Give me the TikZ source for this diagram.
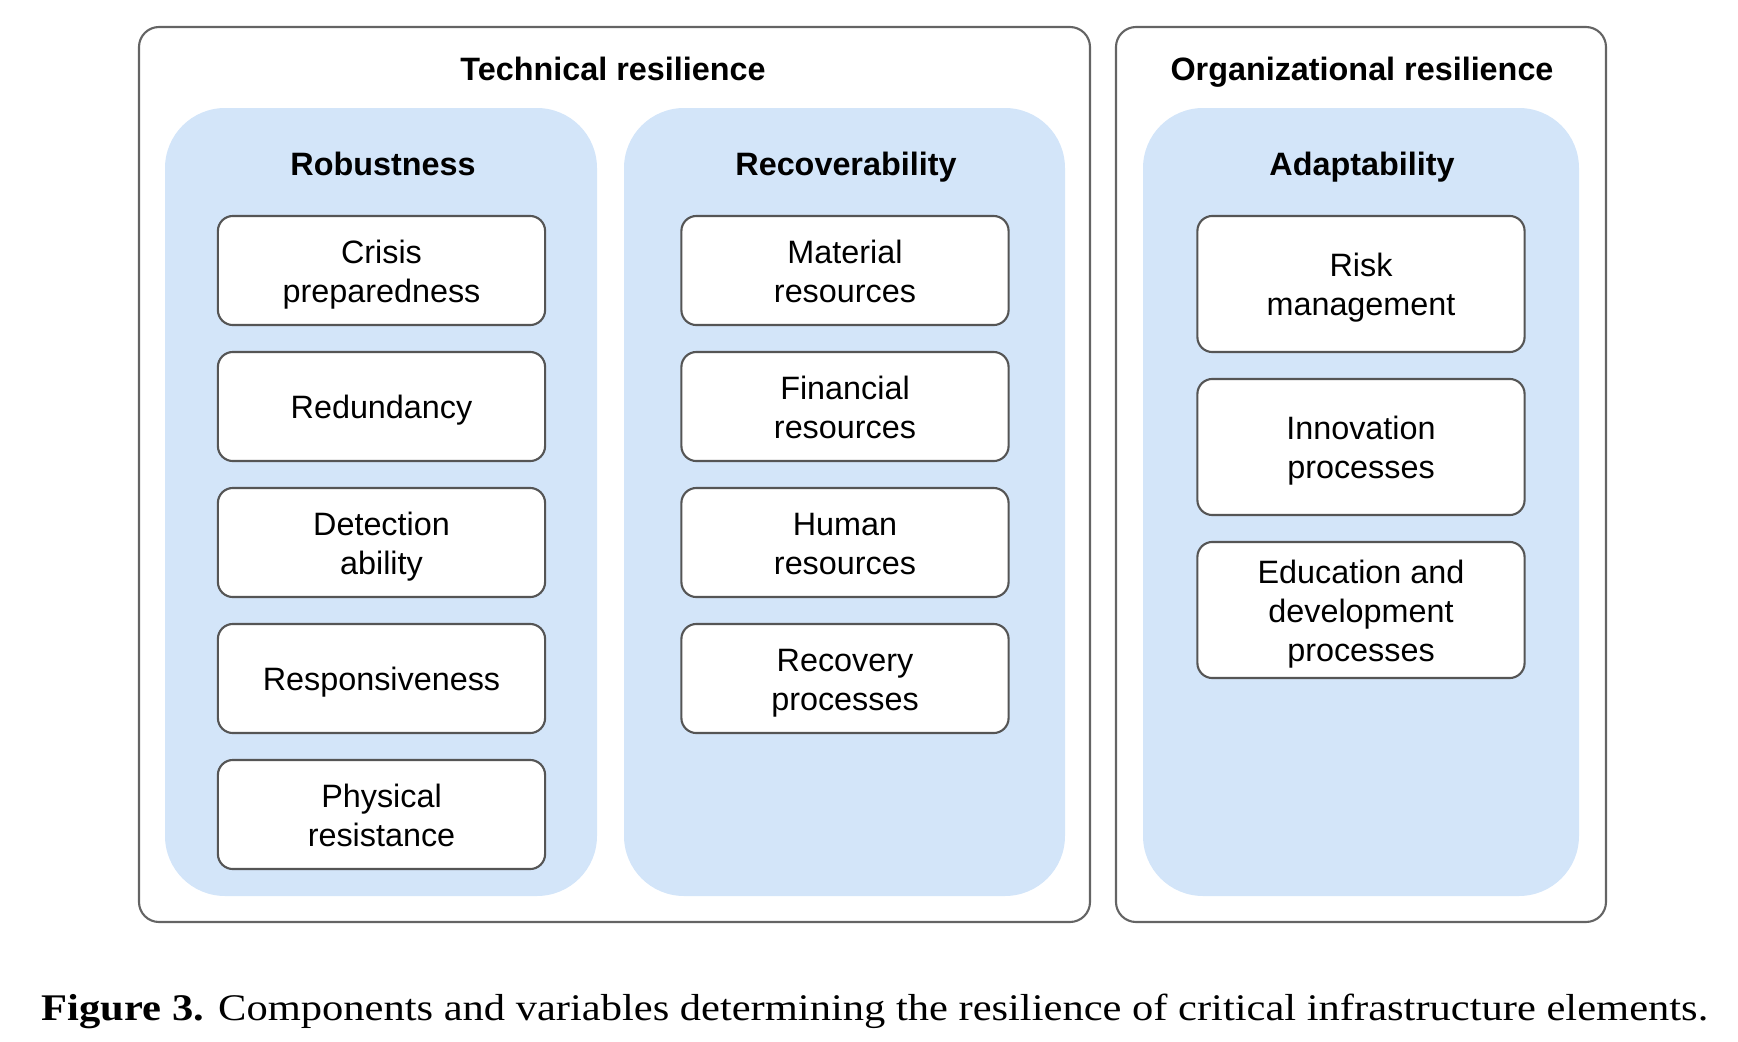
\documentclass[tikz,border=0pt]{standalone}
\usepackage{fontspec}
\setmainfont{Liberation Serif}
\setsansfont{Liberation Sans}
\newfontfamily\captionFont[FakeStretch=1.13]{Liberation Serif}

\definecolor{panelBlue}{RGB}{211,229,249}
\definecolor{edgeGray}{RGB}{100,100,100}

\begin{document}
\begin{tikzpicture}[x=0.01cm, y=-0.01cm, line cap=round, line join=round]

% ---------------- styles ----------------
\tikzset{
  outerBox/.style={draw=edgeGray, line width=0.6pt, rounded corners=0.2cm},
  panel/.style={fill=panelBlue, rounded corners=0.6cm},
  item/.style={draw=edgeGray!85!black, line width=0.6pt, fill=white,
    rounded corners=0.15cm, minimum width=3.27cm, minimum height=1.09cm,
    inner sep=0pt, align=center, font=\sffamily\fontsize{9.2}{11.1}\selectfont,
    text depth=0pt},
  itemTall/.style={item, minimum height=1.36cm},
  % baseline of the last line sits half the text block below the centre
  oneLine/.style={text height=6.9pt},
  twoLines/.style={text height=18pt},
  threeLines/.style={text height=29.1pt},
  groupTitle/.style={anchor=base, font=\sffamily\bfseries\fontsize{9.2}{11}\selectfont}
}

\useasboundingbox (0,0) rectangle (1738,1042);

% ---------------- outer frames ----------------
\draw[outerBox] (139,27) rectangle (1090,922);
\draw[outerBox] (1116,27) rectangle (1606,922);
\node[groupTitle] (tech) at (613,80) {Technical resilience};
\node[groupTitle] (org) at (1362,80) {Organizational resilience};

% ---------------- blue panels ----------------
\fill[panel] (165,108) rectangle (597,896);
\fill[panel] (624,108) rectangle (1065,896);
\fill[panel] (1143,108) rectangle (1579,896);
\node[groupTitle] (rob) at (383,175) {Robustness};
\node[groupTitle] (rec) at (846,175) {Recoverability};
\node[groupTitle] (ada) at (1362,175) {Adaptability};

% ---------------- robustness variables ----------------
\foreach \lines/\txt [count=\i] in {twoLines/{Crisis\\preparedness}, oneLine/{Redundancy},
    twoLines/{Detection\\ability}, oneLine/{Responsiveness}, twoLines/{Physical\\resistance}}
  \node[item, \lines] (rob\i) at (381.5,{270.5+136*(\i-1)}) {\txt};

% ---------------- recoverability variables ----------------
\foreach \txt [count=\i] in {{Material\\resources}, {Financial\\resources},
    {Human\\resources}, {Recovery\\processes}}
  \node[item, twoLines] (rec\i) at (845,{270.5+136*(\i-1)}) {\txt};

% ---------------- adaptability variables ----------------
\foreach \lines/\txt [count=\i] in {twoLines/{Risk\\management}, twoLines/{Innovation\\processes},
    threeLines/{Education and\\development\\processes}}
  \node[itemTall, \lines] (ada\i) at (1361,{284+163*(\i-1)}) {\txt};

% caption
\node[anchor=base, font=\captionFont\fontsize{10.7}{12}\selectfont] (caption) at (875,1020)
  {\textbf{Figure 3.} Components and variables determining the resilience of critical infrastructure elements.};

\end{tikzpicture}
\end{document}
